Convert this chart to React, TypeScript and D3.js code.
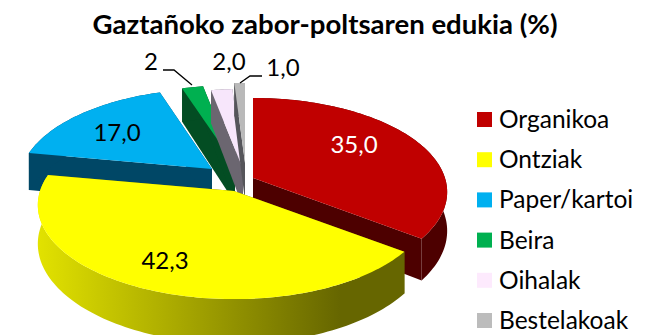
import React from "react";
import * as d3 from "d3";

const categories = ["Organikoa", "Ontziak", "Paper/kartoi", "Beira", "Oihalak", "Bestelakoak"];
const values = [35.0, 42.3, 17.0, 2, 2.0, 1.0];
const valueLabels = ["35,0", "42,3", "17,0", "2", "2,0", "1,0"];
const topColors = ["#c00000", "#ffff00", "#00b0f0", "#00b050", "#f7e6fb", "#b9b9b9"];
const sideColors = ["#4d0000", "url(#rimY)", "#004766", "#034d23", "#6b6670", "#55555a"];
const legendColors = ["#c00000", "#ffff00", "#00b0f0", "#00b050", "#fdeafd", "#bcbcbc"];

// layout (exploded slice apexes on screen)
const apexes: [number, number][] = [[253, 178], [234, 191], [212, 169], [235, 165], [243, 169], [245, 163]];
const radii = [192, 194, 191, 194, 194, 194];
const labelPos: [number, number][] = [[354, 145], [165, 261], [117, 133], [151, 62], [229, 62], [283, 68]];
const labelFill = ["#fff", "#000", "#000", "#000", "#000", "#000"];
const drawOrder = [2, 3, 4, 5, 0, 1];
const K = 92, P = 0.149, D = 38;
const font = "Lato, Carlito, Calibri, sans-serif";

const project = (theta: number, R: number) => {
  const X = Math.sin(theta), Z = Math.cos(theta);
  const w = 1 + P * Z;
  return { x: (R * X) / w, y: (-K * Z) / w, d: D / w };
};

const arcs = d3.pie<number>().sort(null).value((v) => v)(values);
const line = d3.line<[number, number]>().x((p) => p[0]).y((p) => p[1]);

function slicePaths(i: number) {
  const a = arcs[i];
  const [cx, cy] = apexes[i];
  const n = Math.max(8, Math.ceil((a.endAngle - a.startAngle) * 40));
  const angles = d3.range(n + 1).map((k) => a.startAngle + ((a.endAngle - a.startAngle) * k) / n);
  const rimTop = angles.map((t) => {
    const p = project(t, radii[i]);
    return [cx + p.x, cy + p.y] as [number, number];
  });
  const rimBot = angles.map((t) => {
    const p = project(t, radii[i]);
    return [cx + p.x, cy + p.y + p.d] as [number, number];
  });
  const c0: [number, number] = [cx, cy];
  const c1: [number, number] = [cx, cy + D];
  return {
    top: line([c0, ...rimTop])! + "Z",
    rim: line([...rimTop, ...rimBot.slice().reverse()])! + "Z",
    startFace: line([c0, rimTop[0], rimBot[0], c1])! + "Z",
    endFace: line([c0, rimTop[n], rimBot[n], c1])! + "Z",
  };
}

const legendY = d3.scalePoint<string>().domain(categories).range([119.5, 320.5]);
const leaders: [number, number][][] = [
  [[163, 70], [174, 70], [192, 85]],
  [[262, 76], [250, 76], [240, 83]],
];

export default function App() {
  return (
    <svg width={646} height={335} viewBox="0 0 646 335" style={{ position: "absolute", left: 0, top: 0, background: "#fff" }}>
      <defs>
        <linearGradient id="rimY" gradientUnits="userSpaceOnUse" x1={38} x2={340} y1={0} y2={0}>
          <stop offset="0" stopColor="#e2e200" />
          <stop offset="1" stopColor="#666600" />
        </linearGradient>
      </defs>
      <text x={325} y={34} textAnchor="middle" fontFamily={font} fontWeight={700} fontSize={26} textLength={465} lengthAdjust="spacingAndGlyphs" fill="#000">
        Gaztañoko zabor-poltsaren edukia (%)
      </text>
      {drawOrder.map((i) => {
        const s = slicePaths(i);
        return (
          <g key={i}>
            <path d={s.startFace} fill={i === 1 ? "#666600" : sideColors[i]} />
            <path d={s.endFace} fill={i === 1 ? "#666600" : sideColors[i]} />
            <path d={s.rim} fill={sideColors[i]} />
            <path d={s.top} fill={topColors[i]} />
          </g>
        );
      })}
      {leaders.map((l, i) => (
        <path key={i} d={line(l)!} fill="none" stroke="#000" strokeWidth={1.3} />
      ))}
      {valueLabels.map((t, i) => (
        <text key={i} x={labelPos[i][0]} y={labelPos[i][1]} dy="0.35em" textAnchor="middle" fontFamily={font} fontSize={24} fill={labelFill[i]}>
          {t}
        </text>
      ))}
      {categories.map((c, i) => (
        <g key={c}>
          <rect x={477} y={legendY(c)! - 7.5} width={15} height={15} fill={legendColors[i]} />
          <text x={499} y={legendY(c)!} dy="0.35em" fontFamily={font} fontSize={24.5} fill="#000">
            {c}
          </text>
        </g>
      ))}
    </svg>
  );
}
